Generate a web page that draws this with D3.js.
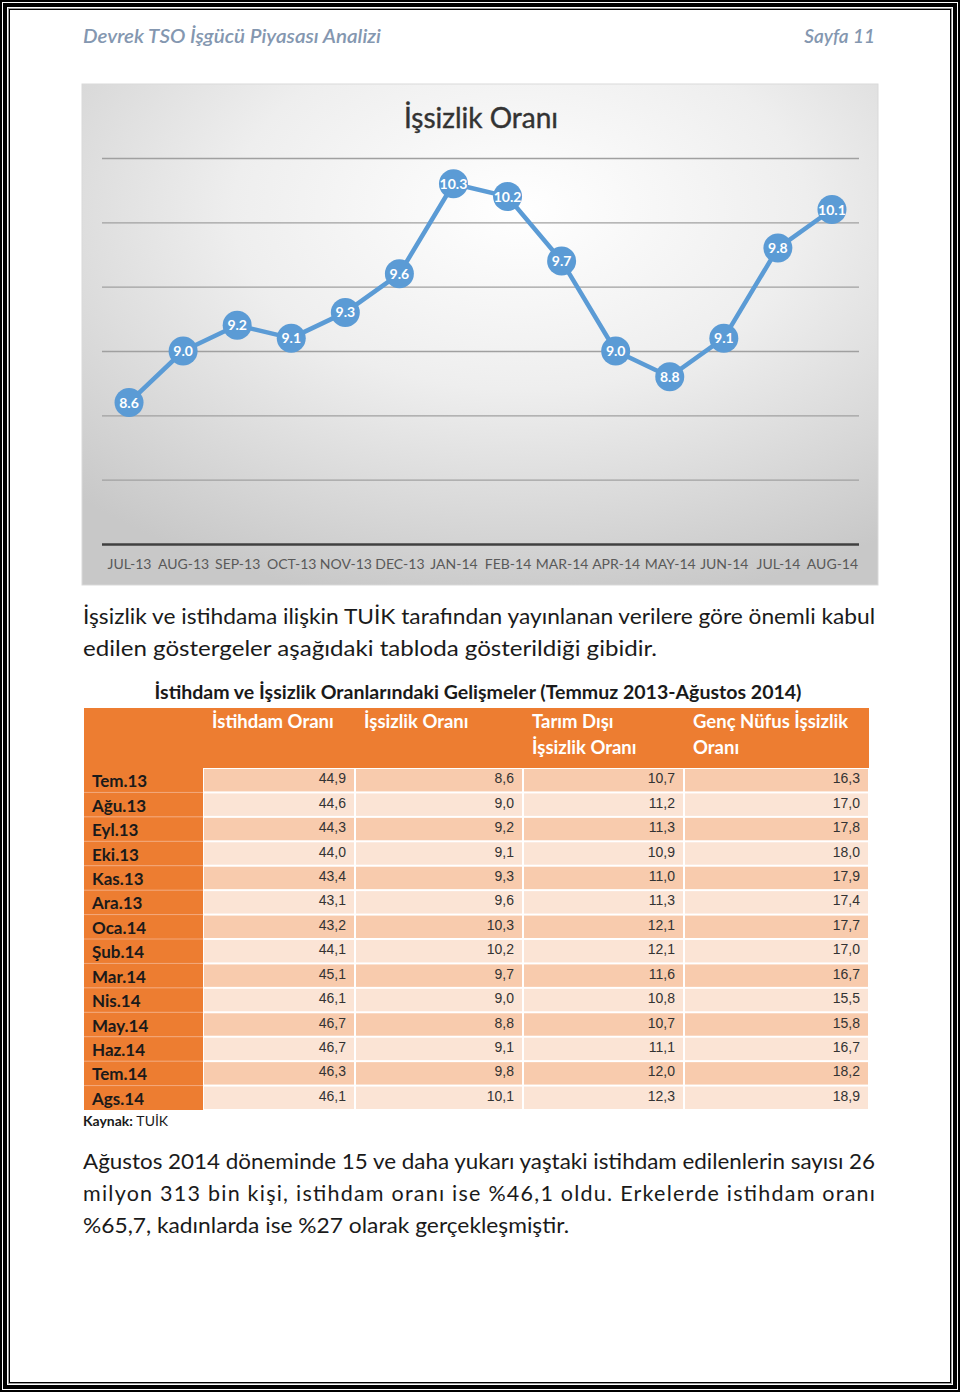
<!DOCTYPE html>
<html><head><meta charset="utf-8">
<script src="https://cdn.jsdelivr.net/npm/d3@7"></script>
<style>html,body{margin:0;padding:0;background:#fff;}svg{display:block;}</style>
</head><body>
<script>
// ---- data ----
const months = ["JUL-13","AUG-13","SEP-13","OCT-13","NOV-13","DEC-13","JAN-14","FEB-14","MAR-14","APR-14","MAY-14","JUN-14","JUL-14","AUG-14"];
const unemployment = [8.6, 9.0, 9.2, 9.1, 9.3, 9.6, 10.3, 10.2, 9.7, 9.0, 8.8, 9.1, 9.8, 10.1];
const yTicks = [7.5, 8.0, 8.5, 9.0, 9.5, 10.0, 10.5];

const rowLabels = ["Tem.13","Ağu.13","Eyl.13","Eki.13","Kas.13","Ara.13","Oca.14","Şub.14","Mar.14","Nis.14","May.14","Haz.14","Tem.14","Ags.14"];
const istihdam = ["44,9","44,6","44,3","44,0","43,4","43,1","43,2","44,1","45,1","46,1","46,7","46,7","46,3","46,1"];
const issizlik = ["8,6","9,0","9,2","9,1","9,3","9,6","10,3","10,2","9,7","9,0","8,8","9,1","9,8","10,1"];
const tarimDisi = ["10,7","11,2","11,3","10,9","11,0","11,3","12,1","12,1","11,6","10,8","10,7","11,1","12,0","12,3"];
const gencNufus = ["16,3","17,0","17,8","18,0","17,9","17,4","17,7","17,0","16,7","15,5","15,8","16,7","18,2","18,9"];
const tableHeaders = [["İstihdam Oranı"],["İşsizlik Oranı"],["Tarım Dışı","İşsizlik Oranı"],["Genç Nüfus İşsizlik","Oranı"]];

const W = 960, H = 1392;
const svg = d3.select("body").append("svg").attr("width", W).attr("height", H);
const FONT = "Lato, 'Open Sans', sans-serif";

// ---- page border ----
svg.append("rect").attr("x",1).attr("y",1).attr("width",W-2).attr("height",H-2).attr("fill","none").attr("stroke","#000").attr("stroke-width",2);
svg.append("rect").attr("x",5).attr("y",5).attr("width",W-10).attr("height",H-10).attr("fill","none").attr("stroke","#000").attr("stroke-width",4);
svg.append("rect").attr("x",8.5).attr("y",8.5).attr("width",W-17).attr("height",H-17).attr("fill","none").attr("stroke","#999").attr("stroke-width",1);
svg.append("rect").attr("x",9.5).attr("y",9.5).attr("width",W-19).attr("height",H-19).attr("fill","none").attr("stroke","#000").attr("stroke-width",1);

// ---- page header ----
svg.append("text").attr("x",83).attr("y",43).attr("font-family",FONT).attr("font-style","italic").attr("font-weight",600)
  .attr("font-size",19).attr("fill","#8497b0").attr("textLength",298).attr("lengthAdjust","spacingAndGlyphs").text("Devrek TSO İşgücü Piyasası Analizi");
svg.append("text").attr("x",875).attr("y",43).attr("text-anchor","end").attr("font-family",FONT).attr("font-style","italic").attr("font-weight",600)
  .attr("font-size",19).attr("fill","#8497b0").text("Sayfa 11");

// ---- chart ----
const defs = svg.append("defs");
const rg = defs.append("radialGradient").attr("id","bg").attr("cx","55%").attr("cy","25%").attr("r","80%");
rg.append("stop").attr("offset","0%").attr("stop-color","#ffffff");
rg.append("stop").attr("offset","45%").attr("stop-color","#eeeeee");
rg.append("stop").attr("offset","100%").attr("stop-color","#c8c8c8");
svg.append("rect").attr("x",82).attr("y",84).attr("width",796).attr("height",501).attr("fill","url(#bg)").attr("stroke","#d9d9d9");

svg.append("text").attr("x",481).attr("y",128).attr("text-anchor","middle").attr("font-family",FONT)
  .attr("font-size",28).attr("fill","#333").attr("stroke","#333").attr("stroke-width",0.4).text("İşsizlik Oranı");

const x = d3.scalePoint().domain(months).range([102, 859]).padding(0.5);
const y = d3.scaleLinear().domain([7.5, 10.5]).range([544, 158]);

const gridAxis = d3.axisLeft(y).tickValues(yTicks).tickSize(-(859-102)).tickFormat("");
const gg = svg.append("g").attr("transform","translate(102,0)").call(gridAxis);
gg.select(".domain").remove();
gg.selectAll(".tick line").attr("stroke","#a0a0a0").attr("stroke-width",1.3);
gg.selectAll(".tick").filter(d => d === 7.5).select("line").attr("stroke","#404040").attr("stroke-width",2.5);

const xAxis = d3.axisBottom(x).tickSize(0).tickPadding(0);
const xg = svg.append("g").attr("transform","translate(0,544)").call(xAxis);
xg.select(".domain").remove();
xg.selectAll("text").attr("y",15).attr("font-family",FONT).attr("font-size",14).attr("fill","#595959");

const line = d3.line().x((d,i) => x(months[i])).y(d => y(d));
svg.append("path").datum(unemployment).attr("d",line).attr("fill","none").attr("stroke","#5b9bd5").attr("stroke-width",4.5).attr("stroke-linejoin","round");
const pts = svg.append("g").selectAll("g").data(unemployment).join("g")
  .attr("transform",(d,i) => `translate(${x(months[i])},${y(d)})`);
pts.append("circle").attr("r",14.5).attr("fill","#5b9bd5");
pts.append("text").attr("text-anchor","middle").attr("dy","0.36em").attr("font-family",FONT).attr("font-weight",700)
  .attr("font-size",14).attr("fill","#fff").text(d => d.toFixed(1));

// ---- paragraph 1 ----
const para1 = [
  {t:"İşsizlik ve istihdama ilişkin TUİK tarafından yayınlanan verilere göre önemli kabul", w:792},
  {t:"edilen göstergeler aşağıdaki tabloda gösterildiği gibidir.", w:574}
];
para1.forEach((p,i) => {
  svg.append("text").attr("x",83).attr("y",624 + i*32).attr("font-family",FONT).attr("font-size",21.5).attr("fill","#1a1a1a")
    .attr("textLength",p.w).attr("lengthAdjust","spacingAndGlyphs").text(p.t);
});

// ---- table ----
svg.append("text").attr("x",478).attr("y",699).attr("text-anchor","middle").attr("font-family",FONT).attr("font-weight",700)
  .attr("font-size",18.5).attr("fill","#1a1a1a").attr("textLength",647).attr("lengthAdjust","spacingAndGlyphs")
  .text("İstihdam ve İşsizlik Oranlarındaki Gelişmeler (Temmuz 2013-Ağustos 2014)");

const colX = [84, 203, 355, 523, 684, 869];
const headTop = 708, headBot = 768;
const rowBand = d3.scaleBand().domain(rowLabels).range([headBot, 1110]);
svg.append("rect").attr("x",colX[0]).attr("y",headTop).attr("width",colX[5]-colX[0]).attr("height",headBot-headTop).attr("fill","#ed7d31");
tableHeaders.forEach((lines,ci) => {
  lines.forEach((l,li) => {
    svg.append("text").attr("x",colX[ci+1]+9).attr("y",728 + li*26).attr("font-family",FONT).attr("font-weight",700)
      .attr("font-size",18.5).attr("fill","#fff").text(l);
  });
});
const cols = [istihdam, issizlik, tarimDisi, gencNufus];
rowLabels.forEach((r,ri) => {
  const y0 = rowBand(r), h = rowBand.bandwidth();
  svg.append("rect").attr("x",colX[0]).attr("y",y0).attr("width",colX[1]-colX[0]).attr("height",h).attr("fill","#ed7d31");
  if (ri > 0) svg.append("line").attr("x1",colX[0]).attr("x2",colX[1]).attr("y1",y0).attr("y2",y0).attr("stroke","#f3a77a").attr("stroke-width",1);
  svg.append("text").attr("x",92).attr("y",y0+h/2+7).attr("font-family",FONT).attr("font-weight",700).attr("font-size",17)
    .attr("fill","#1a1a1a").text(r);
  cols.forEach((c,ci) => {
    svg.append("rect").attr("x",colX[ci+1]+1).attr("y",y0+1).attr("width",colX[ci+2]-colX[ci+1]-2).attr("height",h-2)
      .attr("fill", ri % 2 === 0 ? "#f8cbad" : "#fbe4d5");
    svg.append("text").attr("x",colX[ci+2]-9).attr("y",y0+h/2+3).attr("text-anchor","end").attr("font-family","'Liberation Sans', Arial, sans-serif")
      .attr("font-size",14).attr("fill","#333").text(c[ri]);
  });
});
const src = svg.append("text").attr("x",83).attr("y",1126).attr("font-family",FONT).attr("font-size",14).attr("fill","#1a1a1a");
src.append("tspan").attr("font-weight",700).text("Kaynak: ");
src.append("tspan").text("TUİK");

// ---- paragraph 2 ----
const para2 = [
  {t:"Ağustos 2014 döneminde 15 ve daha yukarı yaştaki istihdam edilenlerin sayısı 26", w:792},
  {t:"milyon 313 bin kişi, istihdam oranı ise %46,1 oldu. Erkelerde istihdam oranı", w:792},
  {t:"%65,7, kadınlarda ise %27 olarak gerçekleşmiştir.", w:486}
];
para2.forEach((p,i) => {
  svg.append("text").attr("x",83).attr("y",1169 + i*32).attr("font-family",FONT).attr("font-size",21.5).attr("fill","#1a1a1a")
    .attr("textLength",p.w).attr("lengthAdjust", i===1 ? "spacing" : "spacingAndGlyphs").text(p.t);
});
</script>
</body></html>
